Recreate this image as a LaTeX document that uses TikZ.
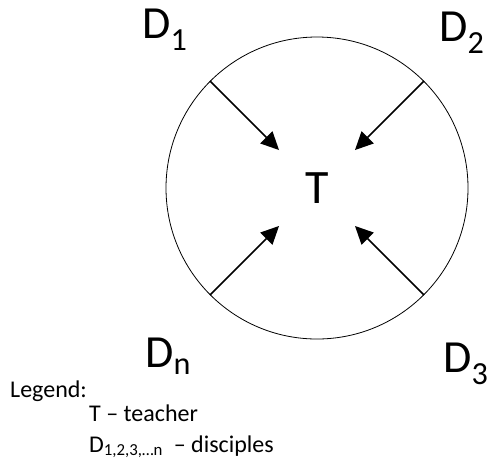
\documentclass[tikz,border=0pt]{standalone}
\usepackage{fontspec}
\setmainfont{Carlito}
\usetikzlibrary{arrows.meta}
\begin{document}
\begin{tikzpicture}[x=1pt,y=-1pt,
  big/.style={font=\fontsize{46}{54}\selectfont, inner sep=0pt, anchor=base west},
  link/.style={line width=1.5pt, -{Triangle[length=18pt,width=17pt]}},
  leg/.style={font=\fontsize{24}{28}\selectfont, inner sep=0pt, anchor=base west}]
\useasboundingbox (0,0) rectangle (489,467);
\node[circle, draw, line width=0.8pt, minimum size=302pt, inner sep=0pt] (C) at (317,188) {};
\node[circle, minimum size=107pt, inner sep=0pt] (Tz) at (317,188) {};
\node[font=\fontsize{48}{54}\selectfont, inner sep=0pt] (T) at (317,188) {T};
\node[big] (D1) at (142,38) {D\textsubscript{1}};
\node[big] (D2) at (439,41) {D\textsubscript{2}};
\node[big] (Dn) at (145,367) {D\textsubscript{n}};
\node[big] (D3) at (443,372) {D\textsubscript{3}};
\draw[link] (C.135) -- (Tz.135);
\draw[link] (C.45) -- (Tz.45);
\draw[link] (C.225) -- (Tz.225);
\draw[link] (C.-45) -- (Tz.-45);
\node[leg] (L0) at (10,397) {Legend:};
\node[leg] (L1) at (89,421) {T -- teacher};
\node[leg] (L2) at (89,452) {D\textsubscript{1,2,3,\ldots n}\ \ -- disciples};
\end{tikzpicture}
\end{document}
